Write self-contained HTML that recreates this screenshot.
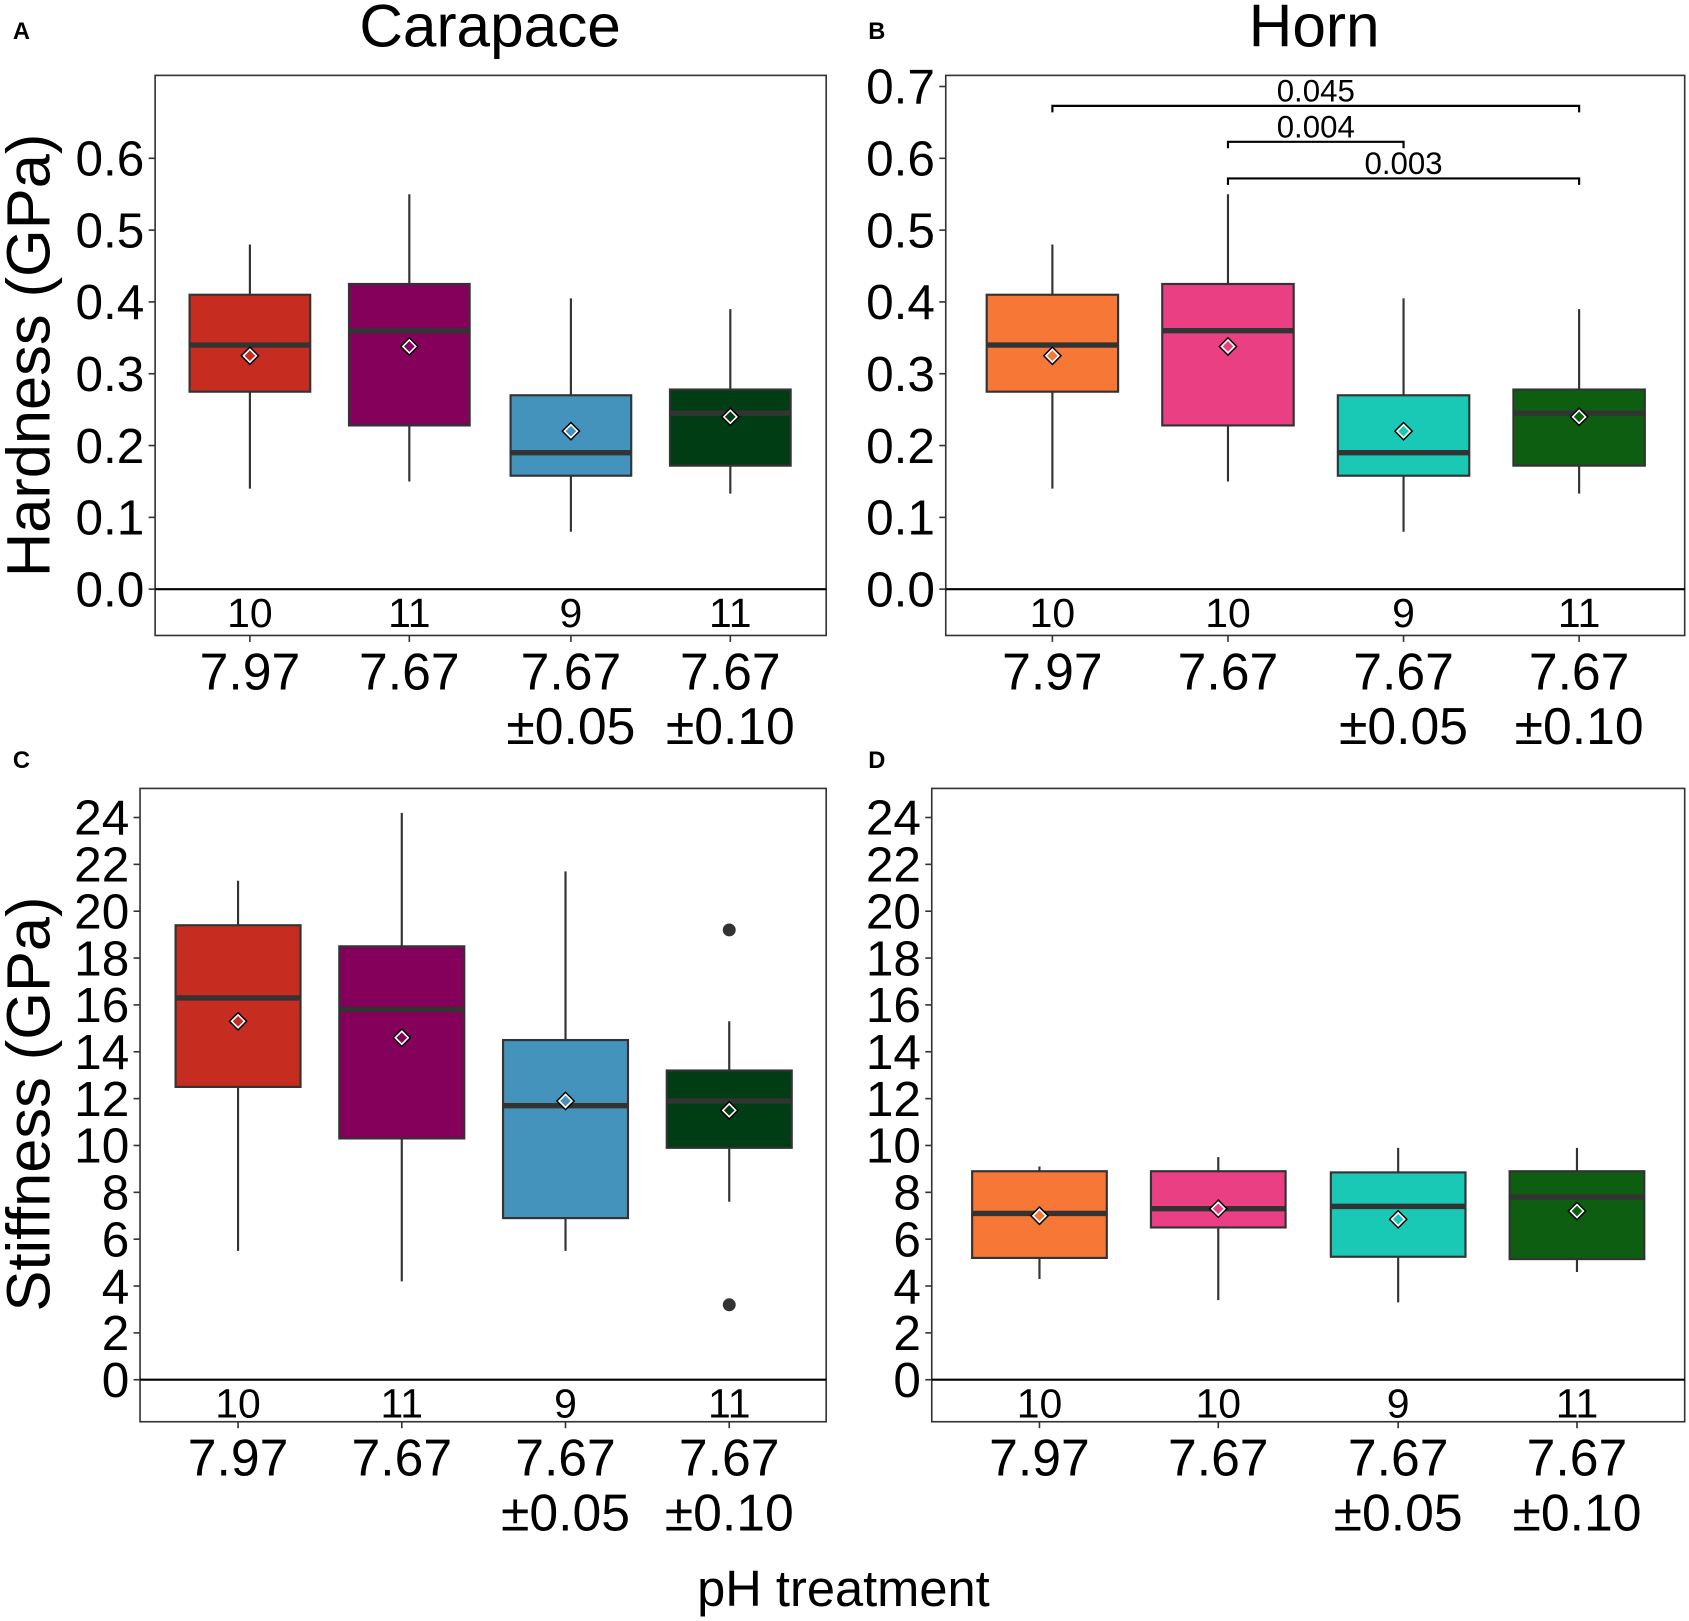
<!DOCTYPE html>
<html><head><meta charset="utf-8"><style>
html,body{margin:0;padding:0;background:#fff;}
svg{display:block;font-family:"Liberation Sans",Arial,sans-serif;}
</style></head><body>
<svg id="fig" width="1689" height="1621" viewBox="0 0 1568 1505" preserveAspectRatio="none" xmlns="http://www.w3.org/2000/svg"></svg>
<script>
// ---- data ----
const phLine1 = ["7.97","7.67","7.67","7.67"];
const phLine2 = ["","","±0.05","±0.10"];
const countsCarapace = ["10","11","9","11"];
const countsHorn = ["10","10","9","11"];
const hardTicks = [0,0.1,0.2,0.3,0.4,0.5,0.6];
const hardTicksB = [0,0.1,0.2,0.3,0.4,0.5,0.6,0.7];
const hardTickLabels = ["0.0","0.1","0.2","0.3","0.4","0.5","0.6"];
const hardTickLabelsB = ["0.0","0.1","0.2","0.3","0.4","0.5","0.6","0.7"];
const stiffTicks = [0,2,4,6,8,10,12,14,16,18,20,22,24];
// hardness (carapace & horn identical in figure)
const hardLo = [0.14,0.15,0.08,0.133];
const hardQ1 = [0.275,0.228,0.158,0.172];
const hardMed = [0.34,0.36,0.19,0.245];
const hardQ3 = [0.41,0.425,0.27,0.278];
const hardHi = [0.48,0.55,0.405,0.39];
const hardMean = [0.325,0.338,0.22,0.24];
// carapace stiffness
const stCLo = [5.5,4.2,5.5,7.6];
const stCQ1 = [12.5,10.3,6.9,9.9];
const stCMed = [16.3,15.8,11.7,11.9];
const stCQ3 = [19.4,18.5,14.5,13.2];
const stCHi = [21.3,24.2,21.7,15.3];
const stCMean = [15.3,14.6,11.9,11.5];
const stCOutCat = [3,3];
const stCOutVal = [19.2,3.2];
// horn stiffness
const stHLo = [4.3,3.4,3.3,4.6];
const stHQ1 = [5.2,6.5,5.25,5.15];
const stHMed = [7.1,7.3,7.4,7.8];
const stHQ3 = [8.9,8.9,8.85,8.9];
const stHHi = [9.1,9.5,9.9,9.9];
const stHMean = [7.0,7.3,6.85,7.2];
// significance brackets (horn hardness)
const sigFrom = [0,1,1];
const sigTo = [3,2,3];
const sigY = [0.673,0.623,0.572];
const sigLabel = ["0.045","0.004","0.003"];

const colCar = ["#c62d20","#85005b","#4493bd","#013d14"];
const colHorn = ["#f77737","#ea4083","#19c9b5","#0d5e10"];

const svg = document.getElementById('fig');
const NS = "http://www.w3.org/2000/svg";
function mk(tag, attrs, parent, text){
  const e = document.createElementNS(NS, tag);
  for (const k in attrs) e.setAttribute(k, attrs[k]);
  if (text !== undefined) e.textContent = text;
  (parent||svg).appendChild(e);
  return e;
}

function panel(o){
  const g = mk('g', {});
  
  
  const y = v => o.y0 - (v - 0) * o.pxPerUnit;
  const x = i => o.cx[i];
  const fr = mk('rect', {x:o.x0, y:o.top, width:o.x1-o.x0, height:o.bot-o.top, fill:'none', stroke:'#333', 'stroke-width':1.5}, g);
  
  
  const zl = mk('line', {x1:o.x0, x2:o.x1, y1:o.y0, y2:o.y0, stroke:'#000', 'stroke-width':2}, g);
  
  
  o.ticks.forEach((t, i) => {
    const tk = mk('line', {x1:o.x0-6, x2:o.x0, y1:y(t), y2:y(t), stroke:'#333', 'stroke-width':1.5}, g);
    
    
    const tl = mk('text', {x:o.x0-10, y:y(t)+16, 'text-anchor':'end', 'font-size':46, fill:'#000'}, g, o.tickLabels[i]);
    
    
  });
  for (let i = 0; i < 4; i++) {
    const xt = mk('line', {x1:x(i), x2:x(i), y1:o.bot, y2:o.bot+6, stroke:'#333', 'stroke-width':1.5}, g);
    
    
    const c = mk('text', {x:x(i), y:o.y0+35, 'text-anchor':'middle', 'font-size':38, fill:'#000'}, g, o.counts[i]);
    
    
    const l1 = mk('text', {x:x(i), y:o.bot+50, 'text-anchor':'middle', 'font-size':48, fill:'#000'}, g, phLine1[i]);
    
    
    if (phLine2[i]) {
      const l2 = mk('text', {x:x(i), y:o.bot+101, 'text-anchor':'middle', 'font-size':48, fill:'#000'}, g, phLine2[i]);
      
      
    }
  }
  for (let i = 0; i < 4; i++) {
    const bg = mk('g', {}, g);
    
    
    mk('line', {x1:x(i), x2:x(i), y1:y(o.hi[i]), y2:y(o.lo[i]), stroke:'#333', 'stroke-width':2}, bg);
    mk('rect', {x:x(i)-o.bw/2, y:y(o.q3[i]), width:o.bw, height:y(o.q1[i])-y(o.q3[i]), fill:o.colors[i], stroke:'#333', 'stroke-width':2}, bg);
    mk('line', {x1:x(i)-o.bw/2, x2:x(i)+o.bw/2, y1:y(o.med[i]), y2:y(o.med[i]), stroke:'#333', 'stroke-width':5}, bg);
    const my = y(o.mean[i]);
    const d = mk('polygon', {points:`${x(i)},${my-9} ${x(i)+9},${my} ${x(i)},${my+9} ${x(i)-9},${my}`, fill:'#000'}, bg);
    
    
    mk('polygon', {points:`${x(i)},${my-6} ${x(i)+6},${my} ${x(i)},${my+6} ${x(i)-6},${my}`, fill:o.colors[i], stroke:'#fff', 'stroke-width':1.5}, bg);
  }
  if (o.outCat) {
    o.outCat.forEach((c, j) => {
      const p = mk('circle', {cx:x(c), cy:y(o.outVal[j]), r:6, fill:'#333'}, g);
      
      
    });
  }
  if (o.sig) {
    sigFrom.forEach((f, j) => {
      const sg = mk('g', {}, g);
      
      
      const yy = y(sigY[j]);
      mk('path', {d:`M${x(f)},${yy+6} V${yy} H${x(sigTo[j])} V${yy+6}`, fill:'none', stroke:'#000', 'stroke-width':2}, sg);
      mk('text', {x:(x(f)+x(sigTo[j]))/2, y:yy-4, 'text-anchor':'middle', 'font-size':29, fill:'#000'}, sg, sigLabel[j]);
    });
  }
}

panel({name:'panel-a-carapace-hardness', x0:144, x1:767, top:70, bot:590, y0:547, pxPerUnit:666.7,
  cx:[232,380,530,678], bw:112, ticks:hardTicks, tickLabels:hardTickLabels, counts:countsCarapace,
  lo:hardLo, q1:hardQ1, med:hardMed, q3:hardQ3, hi:hardHi, mean:hardMean, colors:colCar});
panel({name:'panel-b-horn-hardness', x0:878, x1:1564, top:70, bot:590, y0:547, pxPerUnit:666.7,
  cx:[977,1140,1303,1466], bw:122, ticks:hardTicksB, tickLabels:hardTickLabelsB, counts:countsHorn,
  lo:hardLo, q1:hardQ1, med:hardMed, q3:hardQ3, hi:hardHi, mean:hardMean, colors:colHorn, sig:true});
panel({name:'panel-c-carapace-stiffness', x0:130, x1:767, top:732, bot:1320, y0:1281, pxPerUnit:21.75,
  cx:[221,373,525,677], bw:116, ticks:stiffTicks, tickLabels:stiffTicks.map(String), counts:countsCarapace,
  lo:stCLo, q1:stCQ1, med:stCMed, q3:stCQ3, hi:stCHi, mean:stCMean, colors:colCar, outCat:stCOutCat, outVal:stCOutVal});
panel({name:'panel-d-horn-stiffness', x0:865, x1:1564, top:732, bot:1320, y0:1281, pxPerUnit:21.75,
  cx:[965,1131,1298,1464], bw:125, ticks:stiffTicks, tickLabels:stiffTicks.map(String), counts:countsHorn,
  lo:stHLo, q1:stHQ1, med:stHMed, q3:stHQ3, hi:stHHi, mean:stHMean, colors:colHorn});
</script>
<script>
(function(){
  const s = document.getElementById('fig');
  const NS = "http://www.w3.org/2000/svg";
  function t(x,y,txt,size,name,extra){
    const e = document.createElementNS(NS,'text');
    e.setAttribute('x',x); e.setAttribute('y',y);
    e.setAttribute('font-size',size);
    e.setAttribute('fill','#000');
    for (const k in (extra||{})) e.setAttribute(k, extra[k]);
    e.textContent = txt;
    
    
    s.appendChild(e);
  }
  t(455,43,'Carapace',56,'title-carapace',{'text-anchor':'middle'});
  t(1220,43,'Horn',56,'title-horn',{'text-anchor':'middle'});
  t(12,36,'A',22,'panel-label-a',{'font-weight':'bold'});
  t(806,36,'B',22,'panel-label-b',{'font-weight':'bold'});
  t(12,713,'C',22,'panel-label-c',{'font-weight':'bold'});
  t(806,713,'D',22,'panel-label-d',{'font-weight':'bold'});
  t(46,330,'Hardness (GPa)',57,'y-axis-title-hardness',{'text-anchor':'middle','transform':'rotate(-90 46 330)'});
  t(46,1025,'Stiffness (GPa)',57,'y-axis-title-stiffness',{'text-anchor':'middle','transform':'rotate(-90 46 1025)'});
  t(783,1491,'pH treatment',47,'x-axis-title',{'text-anchor':'middle'});
})();
</script>
</body></html>
